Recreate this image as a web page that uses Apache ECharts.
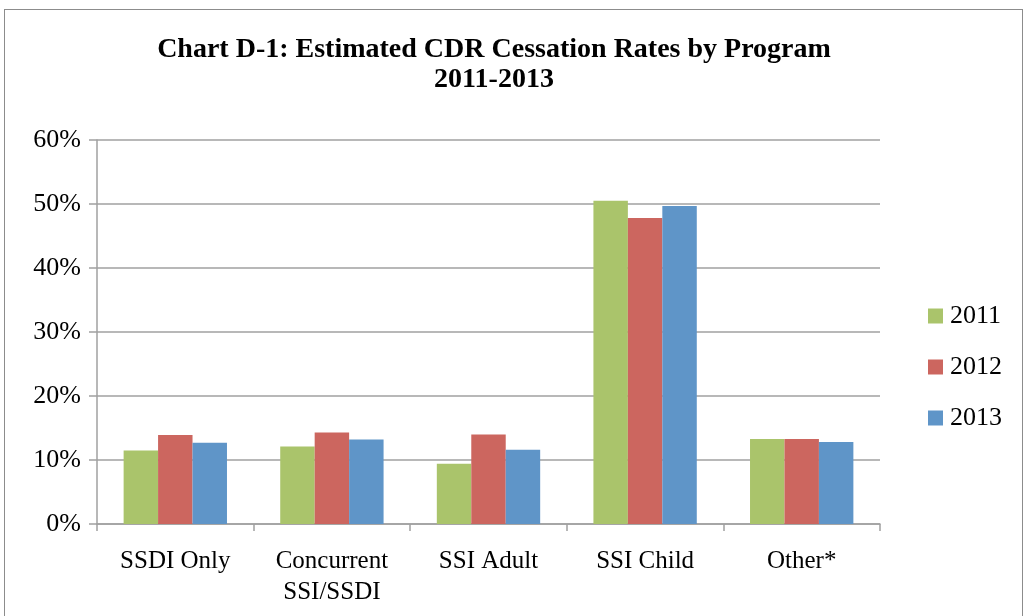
<!DOCTYPE html>
<html>
<head>
<meta charset="utf-8">
<script src="https://cdn.jsdelivr.net/npm/echarts@6/dist/echarts.min.js"></script>
<style>
html, body { margin: 0; padding: 0; background: #fff; }
#chart { width: 1030px; height: 616px; }
.frame { position: absolute; left: 4px; top: 9px; width: 1019px; height: 620px; border: 1px solid #8c8c8c; box-sizing: border-box; pointer-events: none; }
</style>
</head>
<body>
<div id="chart"></div>
<div class="frame"></div>
<script>
// data
var categories = ['SSDI Only', 'Concurrent\nSSI/SSDI', 'SSI Adult', 'SSI Child', 'Other*'];
var years = ['2011', '2012', '2013'];
var rates2011 = [11.5, 12.1, 9.4, 50.5, 13.3];
var rates2012 = [13.9, 14.3, 14.0, 47.8, 13.3];
var rates2013 = [12.7, 13.2, 11.6, 49.7, 12.8];
var yTicks = [0, 10, 20, 30, 40, 50, 60];

var colors = ['#aac46b', '#cc665f', '#5f95c8'];
var serif = '"Liberation Serif", "DejaVu Serif", serif';

var myChart = echarts.init(document.getElementById('chart'));
var option = {
    animation: false,
    color: colors,
    title: {
        text: 'Chart D-1: Estimated CDR Cessation Rates by Program\n2011-2013',
        left: 489,
        textAlign: 'center',
        top: 30,
        textStyle: {
            fontFamily: serif,
            fontWeight: 'bold',
            fontSize: 28,
            lineHeight: 30,
            color: '#000'
        }
    },
    legend: {
        orient: 'vertical',
        left: 923,
        top: 298,
        itemWidth: 15,
        itemHeight: 15,
        itemGap: 25,
        icon: 'rect',
        data: years,
        textStyle: {
            fontFamily: serif,
            fontSize: 26,
            color: '#000',
            padding: [0, 0, 0, 2]
        }
    },
    grid: {
        left: 97,
        right: 150,
        top: 140,
        bottom: 92
    },
    xAxis: {
        type: 'category',
        data: categories,
        axisLine: { lineStyle: { color: '#a0a0a0', width: 1.5 } },
        axisTick: { show: true, length: 7, lineStyle: { color: '#a0a0a0', width: 1.5 } },
        axisLabel: {
            fontFamily: serif,
            fontSize: 25,
            color: '#000',
            margin: 22,
            lineHeight: 31
        }
    },
    yAxis: {
        type: 'value',
        min: yTicks[0],
        max: yTicks[yTicks.length - 1],
        interval: 10,
        axisLine: { show: true, lineStyle: { color: '#a0a0a0', width: 1.5 } },
        axisTick: { show: true, length: 8, lineStyle: { color: '#a0a0a0', width: 1.5 } },
        splitLine: { lineStyle: { color: '#a0a0a0', width: 1.5 } },
        axisLabel: {
            fontFamily: serif,
            fontSize: 26,
            color: '#000',
            margin: 16,
            formatter: '{value}%'
        }
    },
    series: [
        { name: years[0], type: 'bar', data: rates2011, barGap: '0%', barCategoryGap: '34%' },
        { name: years[1], type: 'bar', data: rates2012, barGap: '0%', barCategoryGap: '34%' },
        { name: years[2], type: 'bar', data: rates2013, barGap: '0%', barCategoryGap: '34%' }
    ]
};
myChart.setOption(option);
window.addEventListener('resize', function () { myChart.resize(); });
</script>
</body>
</html>
